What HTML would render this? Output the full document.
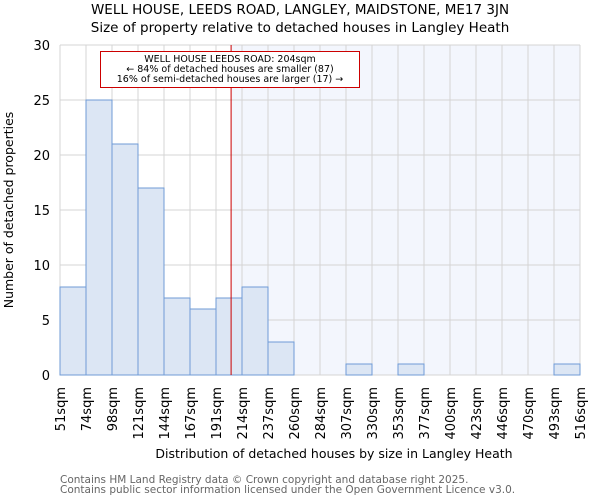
<!DOCTYPE html>
<html><head><meta charset="utf-8"><style>
body{margin:0;background:#fff}
svg{display:block;font-family:"DejaVu Sans","Liberation Sans",sans-serif}
</style></head><body>
<svg id="chart" width="600" height="500" viewBox="0 0 600 500">
<text x="300" y="14" text-anchor="middle" font-size="13.5" fill="#000">WELL HOUSE, LEEDS ROAD, LANGLEY, MAIDSTONE, ME17 3JN</text>
<text x="300" y="32" text-anchor="middle" font-size="13.5" fill="#000">Size of property relative to detached houses in Langley Heath</text>
<g id="plot"></g>
<text transform="translate(13,210) rotate(-90)" text-anchor="middle" font-size="12.5">Number of detached properties</text>
<text x="334" y="458" text-anchor="middle" font-size="12.5">Distribution of detached houses by size in Langley Heath</text>
<text x="60" y="483" font-size="10.5" fill="#666">Contains HM Land Registry data © Crown copyright and database right 2025.</text>
<text x="60" y="493" font-size="10.5" fill="#666">Contains public sector information licensed under the Open Government Licence v3.0.</text>
</svg>
<script>
const binLabels=["51sqm","74sqm","98sqm","121sqm","144sqm","167sqm","191sqm","214sqm","237sqm","260sqm","284sqm","307sqm","330sqm","353sqm","377sqm","400sqm","423sqm","446sqm","470sqm","493sqm","516sqm"];
const counts=[8,25,21,17,7,6,7,8,3,0,0,1,0,1,0,0,0,0,0,1];
const yTicks=[0,5,10,15,20,25,30];
const binStart=51, binEnd=516;
const propertySize=204;
const ns="http://www.w3.org/2000/svg";
const X0=60,X1=580,Y0=375,Y1=45,YMAX=30;
const nb=counts.length, bw=(X1-X0)/nb;
const xs=v=>X0+(v-binStart)/(binEnd-binStart)*(X1-X0);
const xb=i=>X0+i*bw;
const ys=v=>Y0-(v/YMAX)*(Y0-Y1);
const g=document.getElementById('plot');
function mk(t,a){const e=document.createElementNS(ns,t);for(const k in a)e.setAttribute(k,a[k]);g.appendChild(e);return e;}
const px=xs(propertySize);
let e=mk('rect',{x:px,y:Y1,width:X1-px,height:Y0-Y1,fill:'#f3f6fd'});


for(let i=0;i<=nb;i++){e=mk('line',{x1:xb(i),x2:xb(i),y1:Y1,y2:Y0,stroke:'#d4d4d4','stroke-width':1});

}
yTicks.forEach(t=>{e=mk('line',{x1:X0,x2:X1,y1:ys(t),y2:ys(t),stroke:'#d4d4d4','stroke-width':1});


e=mk('text',{x:X0-10,y:ys(t)+5,'text-anchor':'end','font-size':13});e.textContent=t;

});
counts.forEach((c,i)=>{if(c<=0)return;e=mk('rect',{x:xb(i),y:ys(c),width:bw,height:Y0-ys(c),fill:'#dce6f4',stroke:'#6f9bd6','stroke-width':1});

});
binLabels.forEach((l,i)=>{e=mk('text',{transform:`translate(${xb(i)+5},${Y0+12}) rotate(-90)`,'text-anchor':'end','font-size':13});e.textContent=l;

});
e=mk('line',{x1:px,x2:px,y1:Y1,y2:Y0,stroke:'#c00','stroke-width':1});


e=mk('rect',{x:100.5,y:51.5,width:259,height:36,fill:'#fff',stroke:'#c00','stroke-width':1});


["WELL HOUSE LEEDS ROAD: 204sqm","← 84% of detached houses are smaller (87)","16% of semi-detached houses are larger (17) →"].forEach((s,i)=>{e=mk('text',{x:230,y:62+i*10,'text-anchor':'middle','font-size':9.5});e.textContent=s;

});
</script>
</body></html>
